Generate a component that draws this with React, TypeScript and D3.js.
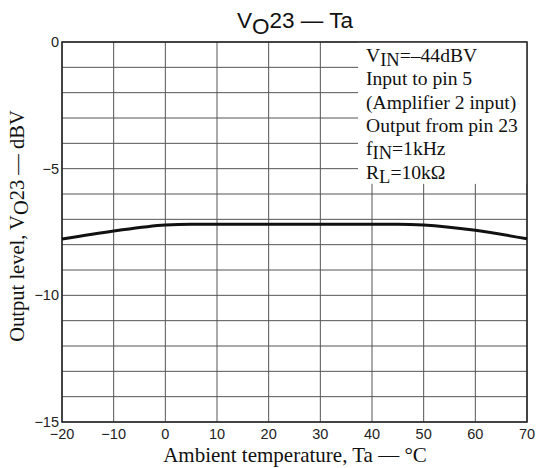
import React from "react";
import * as d3 from "d3";

const temps = [-20, -10, 0, 5, 25, 45, 50, 60, 70];
const levels = [-7.78, -7.46, -7.22, -7.19, -7.19, -7.19, -7.22, -7.43, -7.77];
const xTicks = [-20, -10, 0, 10, 20, 30, 40, 50, 60, 70];
const yTicks = [0, -5, -10, -15];
const yGrid = d3.range(0, -16, -1);

const W = 537, H = 468;
const m = { l: 62, r: 527, t: 42, b: 422 };

export default function App() {
  const x = d3.scaleLinear().domain([-20, 70]).range([m.l, m.r]);
  const y = d3.scaleLinear().domain([0, -15]).range([m.t, m.b]);
  const line = d3
    .line<number>()
    .x((_, i) => x(temps[i]))
    .y((d) => y(d))
    .curve(d3.curveMonotoneX);
  const serif = "'Liberation Serif', 'Times New Roman', serif";
  const sans = "'Liberation Sans', Arial, sans-serif";
  const boxX = 358;
  const boxBottom = y(-5.6);
  const legendLines: { main: string; sub?: string; rest?: string }[] = [
    { main: "V", sub: "IN", rest: "=–44dBV" },
    { main: "Input to pin 5" },
    { main: "(Amplifier 2 input)" },
    { main: "Output from pin 23" },
    { main: "f", sub: "IN", rest: "=1kHz" },
    { main: "R", sub: "L", rest: "=10kΩ" },
  ];
  return (
    <svg width={W} height={H} style={{ position: "absolute", left: 0, top: 0, background: "#fff" }}>
      <rect x={0} y={0} width={W} height={H} fill="#fff" />
      {yGrid.map((v) => (
        <line key={"h" + v} x1={m.l} x2={m.r} y1={y(v)} y2={y(v)} stroke="#555" strokeWidth={1} />
      ))}
      {xTicks.map((v) => (
        <line key={"v" + v} x1={x(v)} x2={x(v)} y1={m.t} y2={m.b} stroke="#555" strokeWidth={1} />
      ))}
      <rect x={boxX} y={m.t} width={m.r - boxX} height={boxBottom - m.t} fill="#fff" />
      <rect x={m.l} y={m.t} width={m.r - m.l} height={m.b - m.t} fill="none" stroke="#222" strokeWidth={1.5} />
      <path d={line(levels) || ""} fill="none" stroke="#111" strokeWidth={3} />
      {legendLines.map((l, i) => (
        <text key={i} x={366} y={62 + i * 23.3} fontFamily={serif} fontSize={19.6} fill="#111">
          {l.main}
          {l.sub && (
            <tspan dy={4} fontSize={18.5}>
              {l.sub}
            </tspan>
          )}
          {l.rest && <tspan dy={l.sub ? -4 : 0}>{l.rest}</tspan>}
        </text>
      ))}
      {yTicks.map((v) => (
        <text key={"yt" + v} x={59} y={y(v) + 5} textAnchor="end" fontFamily={sans} fontSize={14.5} fill="#222">
          {v < 0 ? "−" + Math.abs(v) : v}
        </text>
      ))}
      {xTicks.map((v) => (
        <text key={"xt" + v} x={x(v)} y={439} textAnchor="middle" fontFamily={sans} fontSize={14.5} fill="#222">
          {v < 0 ? "−" + Math.abs(v) : v}
        </text>
      ))}
      <text x={295} y={462} textAnchor="middle" fontFamily={serif} fontSize={21} fill="#111">
        Ambient temperature, Ta — °C
      </text>
      <text transform={`translate(24,226) rotate(-90)`} textAnchor="middle" fontFamily={serif} fontSize={20.5} fill="#111">
        Output level, V<tspan dy={4}>O</tspan>
        <tspan dy={-4}>23 — dBV</tspan>
      </text>
      <text x={295} y={28} textAnchor="middle" fontFamily={sans} fontSize={22.5} fill="#111">
        V<tspan dy={6}>O</tspan>
        <tspan dy={-6}>23 — Ta</tspan>
      </text>
    </svg>
  );
}
